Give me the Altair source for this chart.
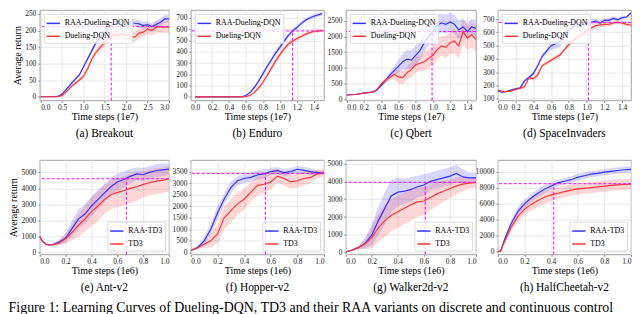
import altair as alt
import pandas as pd

SERIF = "Liberation Serif"
BLUE = "#3535ff"
RED = "#ff3535"
MAG = "#ff00ff"

# ---------------- (a) Breakout ----------------
br_x = [0, 0.2, 0.4, 0.5, 0.6, 0.75, 0.9, 1.0, 1.1, 1.2, 1.3, 1.4, 1.5, 1.6, 1.7, 1.8, 1.9, 2.0, 2.1, 2.2, 2.3, 2.4, 2.5, 2.6, 2.7, 2.8, 2.9, 3.0]
br_raa = [0, 0, 1, 8, 22, 45, 65, 90, 115, 140, 165, 180, 192, 210, 218, 222, 215, 212, 225, 222, 220, 215, 218, 212, 218, 225, 235, 235]
br_raa_sd = [0, 0, 1, 3, 4, 5, 5, 6, 7, 8, 8, 10, 15, 12, 10, 10, 10, 10, 12, 12, 12, 12, 10, 10, 12, 12, 12, 12]
br_base = [0, 0, 0, 4, 15, 35, 50, 62, 85, 115, 135, 150, 165, 180, 188, 185, 190, 185, 183, 180, 192, 195, 205, 200, 210, 212, 210, 210]
br_base_sd = [0, 0, 1, 3, 4, 5, 5, 6, 7, 8, 9, 10, 12, 15, 15, 15, 15, 15, 15, 15, 15, 15, 15, 15, 18, 18, 18, 18]

# ---------------- (b) Enduro ----------------
en_x = [0, 0.2, 0.4, 0.5, 0.55, 0.6, 0.65, 0.7, 0.75, 0.8, 0.85, 0.9, 0.95, 1.0, 1.05, 1.1, 1.15, 1.2, 1.25, 1.3, 1.35, 1.4, 1.45, 1.5]
en_raa = [0, 0, 0, 0, 2, 12, 40, 85, 140, 205, 270, 330, 390, 440, 495, 545, 585, 615, 650, 680, 700, 715, 728, 738]
en_raa_sd = [0, 0, 0, 0, 2, 5, 10, 15, 20, 22, 25, 25, 25, 25, 25, 22, 20, 20, 20, 20, 18, 18, 18, 18]
en_base = [0, 0, 0, 0, 0, 3, 15, 40, 80, 130, 190, 255, 320, 375, 425, 470, 495, 515, 535, 555, 570, 580, 585, 588]
en_base_sd = [0, 0, 0, 0, 0, 3, 8, 12, 18, 20, 22, 25, 25, 25, 25, 22, 20, 18, 18, 18, 15, 15, 15, 15]

# ---------------- (c) Qbert ----------------
qb_x = [0, 0.1, 0.2, 0.3, 0.35, 0.4, 0.45, 0.5, 0.55, 0.6, 0.65, 0.7, 0.75, 0.8, 0.85, 0.9, 0.95, 1.0, 1.05, 1.1, 1.15, 1.2, 1.25, 1.3, 1.35, 1.4, 1.45, 1.5]
qb_raa = [150, 165, 210, 240, 300, 450, 600, 780, 920, 1050, 1200, 1280, 1250, 1400, 1550, 1800, 2000, 2150, 2350, 2420, 2380, 2450, 2380, 2200, 2300, 2150, 2300, 2250]
qb_raa_sd = [10, 10, 15, 20, 30, 50, 80, 100, 150, 200, 250, 300, 300, 300, 300, 300, 300, 300, 300, 300, 300, 300, 300, 300, 250, 250, 250, 250]
qb_base = [150, 165, 210, 240, 320, 500, 620, 700, 800, 720, 700, 850, 950, 1100, 1150, 1200, 1300, 1400, 1580, 1700, 1650, 1800, 1850, 1700, 2150, 1950, 2050, 1900]
qb_base_sd = [10, 10, 15, 20, 30, 50, 80, 100, 150, 200, 200, 200, 250, 250, 250, 300, 300, 300, 300, 300, 350, 350, 400, 400, 400, 400, 400, 400]

# ---------------- (d) SpaceInvaders ----------------
si_x = [0, 0.05, 0.1, 0.15, 0.2, 0.25, 0.3, 0.35, 0.4, 0.45, 0.5, 0.55, 0.6, 0.65, 0.7, 0.75, 0.8, 0.85, 0.9, 0.95, 1.0, 1.05, 1.1, 1.15, 1.2, 1.25, 1.3, 1.35, 1.4, 1.45, 1.5]
si_raa = [160, 150, 155, 165, 175, 180, 235, 260, 290, 350, 420, 460, 500, 515, 530, 580, 620, 640, 650, 660, 665, 675, 685, 670, 690, 690, 705, 695, 710, 715, 745]
si_raa_sd = [8, 8, 8, 8, 8, 10, 15, 15, 15, 15, 15, 20, 30, 40, 40, 30, 25, 20, 20, 15, 15, 15, 15, 15, 15, 15, 15, 15, 10, 10, 10]
si_base = [165, 155, 155, 160, 170, 180, 190, 260, 250, 280, 350, 370, 390, 410, 430, 470, 510, 540, 560, 590, 610, 630, 650, 655, 660, 660, 670, 675, 670, 660, 655]
si_base_sd = [8, 8, 8, 8, 8, 10, 12, 15, 15, 15, 15, 15, 15, 15, 15, 15, 20, 20, 20, 20, 20, 20, 20, 20, 20, 15, 15, 15, 15, 15, 15]

# ---------------- (e) Ant-v2 ----------------
an_x = [0, 0.02, 0.05, 0.08, 0.1, 0.15, 0.2, 0.25, 0.3, 0.35, 0.4, 0.45, 0.5, 0.55, 0.6, 0.65, 0.7, 0.75, 0.8, 0.85, 0.9, 0.95, 1.0]
an_raa = [1000, 700, 500, 470, 500, 650, 900, 1500, 2100, 2400, 2900, 3300, 3700, 4100, 4400, 4550, 4750, 4900, 4850, 5000, 5100, 5150, 5200]
an_raa_sd = [50, 50, 50, 50, 60, 150, 300, 500, 600, 600, 600, 600, 600, 550, 500, 500, 450, 400, 400, 400, 400, 400, 350]
an_base = [1000, 700, 500, 470, 480, 600, 850, 1250, 1700, 2100, 2550, 2900, 3300, 3600, 3750, 3850, 4000, 4100, 4250, 4350, 4450, 4500, 4600]
an_base_sd = [50, 50, 50, 50, 60, 150, 300, 500, 700, 800, 900, 900, 900, 900, 900, 900, 900, 900, 800, 800, 800, 800, 800]

# ---------------- (f) Hopper-v2 ----------------
ho_x = [0, 0.05, 0.1, 0.15, 0.2, 0.25, 0.3, 0.35, 0.4, 0.45, 0.5, 0.55, 0.6, 0.65, 0.7, 0.75, 0.8, 0.85, 0.9, 0.95, 1.0]
ho_raa = [80, 200, 500, 1000, 1700, 2300, 2800, 3100, 3200, 3250, 3350, 3400, 3500, 3550, 3450, 3500, 3600, 3550, 3500, 3450, 3450]
ho_raa_sd = [30, 80, 150, 250, 300, 250, 250, 200, 200, 200, 200, 200, 150, 150, 150, 150, 150, 150, 150, 100, 100]
ho_base = [80, 200, 350, 500, 800, 1500, 1800, 2100, 2300, 2600, 2900, 2950, 3050, 3300, 3200, 3050, 3100, 3200, 3250, 3400, 3450]
ho_base_sd = [30, 80, 150, 300, 400, 500, 500, 500, 450, 400, 400, 400, 350, 300, 300, 300, 300, 300, 250, 200, 150]

# ---------------- (g) Walker2d-v2 ----------------
wa_x = [0, 0.05, 0.1, 0.15, 0.2, 0.25, 0.3, 0.35, 0.4, 0.45, 0.5, 0.55, 0.6, 0.65, 0.7, 0.75, 0.8, 0.85, 0.9, 0.95, 1.0]
wa_raa = [50, 150, 300, 550, 1000, 1800, 2500, 3200, 3400, 3450, 3550, 3700, 3800, 4000, 4100, 4200, 4300, 4450, 4250, 4200, 4200]
wa_raa_sd = [20, 50, 100, 300, 600, 800, 900, 900, 800, 700, 700, 600, 600, 500, 500, 500, 500, 500, 400, 300, 300]
wa_base = [50, 150, 300, 500, 850, 1400, 1800, 2100, 2300, 2500, 2700, 2850, 2900, 3100, 3300, 3450, 3600, 3750, 3850, 3900, 3950]
wa_base_sd = [20, 50, 100, 300, 600, 800, 900, 900, 900, 900, 900, 800, 800, 700, 700, 600, 500, 500, 400, 300, 300]

# ---------------- (h) HalfCheetah-v2 ----------------
hc_x = [0, 0.02, 0.05, 0.1, 0.15, 0.2, 0.25, 0.3, 0.35, 0.4, 0.45, 0.5, 0.55, 0.6, 0.65, 0.7, 0.75, 0.8, 0.85, 0.9, 0.95, 1.0]
hc_raa = [0, 0, 1500, 3500, 5000, 6000, 6700, 7300, 7800, 8200, 8600, 8800, 9000, 9300, 9500, 9700, 9800, 9950, 10050, 10150, 10250, 10300]
hc_raa_sd = [0, 0, 200, 400, 500, 500, 500, 500, 500, 450, 400, 400, 400, 400, 400, 400, 400, 400, 400, 400, 400, 400]
hc_base = [0, 0, 1200, 3000, 4400, 5300, 5900, 6400, 6800, 7100, 7300, 7500, 7700, 7850, 7920, 8000, 8100, 8200, 8280, 8350, 8400, 8450]
hc_base_sd = [0, 0, 200, 500, 700, 800, 800, 800, 800, 800, 700, 700, 700, 700, 700, 700, 700, 700, 700, 700, 700, 700]

DQN_NAMES = ["RAA-Dueling-DQN", "Dueling-DQN"]
TD3_NAMES = ["RAA-TD3", "TD3"]

captions = ["(a) Breakout", "(b) Enduro", "(c) Qbert", "(d) SpaceInvaders",
            "(e) Ant-v2", "(f) Hopper-v2", "(g) Walker2d-v2", "(h) HalfCheetah-v2"]
thresh_y = [212, 585, 2150, 675, 4600, 3420, 3950, 8500]
thresh_x = [1.65, 1.15, 0.99, 1.02, 0.67, 0.56, 0.61, 0.42]

xt7 = [0.0, 0.2, 0.4, 0.6, 0.8, 1.0, 1.2, 1.4]
xt6 = [0.0, 0.2, 0.4, 0.6, 0.8, 1.0]

panels = [
    dict(x=br_x, raa=br_raa, raa_sd=br_raa_sd, base=br_base, base_sd=br_base_sd, names=DQN_NAMES,
         xdom=[-0.02, 3.0], ydom=[-11, 262], xticks=[0.0, 0.5, 1.0, 1.5, 2.0, 2.5, 3.0], yticks=[0, 50, 100, 150, 200, 250],
         xtitle="Time steps (1e7)", lorient="top-left"),
    dict(x=en_x, raa=en_raa, raa_sd=en_raa_sd, base=en_base, base_sd=en_base_sd, names=DQN_NAMES,
         xdom=[-0.05, 1.52], ydom=[-31, 771], xticks=xt7, yticks=[0, 100, 200, 300, 400, 500, 600, 700],
         xtitle="Time steps (1e7)", lorient="top-left"),
    dict(x=qb_x, raa=qb_raa, raa_sd=qb_raa_sd, base=qb_base, base_sd=qb_base_sd, names=DQN_NAMES,
         xdom=[-0.01, 1.5], ydom=[-20, 2830], xticks=xt7, yticks=[0, 500, 1000, 1500, 2000, 2500],
         xtitle="Time steps (1e7)", lorient="top-left"),
    dict(x=si_x, raa=si_raa, raa_sd=si_raa_sd, base=si_base, base_sd=si_base_sd, names=DQN_NAMES,
         xdom=[0, 1.5], ydom=[88, 768], xticks=xt7, yticks=[100, 200, 300, 400, 500, 600, 700],
         xtitle="Time steps (1e7)", lorient="top-left"),
    dict(x=an_x, raa=an_raa, raa_sd=an_raa_sd, base=an_base, base_sd=an_base_sd, names=TD3_NAMES,
         xdom=[0, 1.0], ydom=[-120, 5770], xticks=xt6, yticks=[0, 1000, 2000, 3000, 4000, 5000],
         xtitle="Time steps (1e6)", lorient="bottom-right"),
    dict(x=ho_x, raa=ho_raa, raa_sd=ho_raa_sd, base=ho_base, base_sd=ho_base_sd, names=TD3_NAMES,
         xdom=[0, 1.0], ydom=[-90, 4000], xticks=xt6, yticks=[0, 500, 1000, 1500, 2000, 2500, 3000, 3500],
         xtitle="Time steps (1e6)", lorient="bottom-right"),
    dict(x=wa_x, raa=wa_raa, raa_sd=wa_raa_sd, base=wa_base, base_sd=wa_base_sd, names=TD3_NAMES,
         xdom=[0, 1.0], ydom=[-95, 5200], xticks=xt6, yticks=[0, 1000, 2000, 3000, 4000, 5000],
         xtitle="Time steps (1e6)", lorient="bottom-right"),
    dict(x=hc_x, raa=hc_raa, raa_sd=hc_raa_sd, base=hc_base, base_sd=hc_base_sd, names=TD3_NAMES,
         xdom=[0, 1.0], ydom=[-380, 11470], xticks=xt6, yticks=[0, 2000, 4000, 6000, 8000, 10000],
         xtitle="Time steps (1e6)", lorient="bottom-right"),
]

col_widths = [130, 134, 131, 134]
row_heights = [91, 95]


def make_panel(i, p):
    col = i % 4
    row = i // 4
    recs = []
    for name, m, s in [(p["names"][0], p["raa"], p["raa_sd"]), (p["names"][1], p["base"], p["base_sd"])]:
        for xi, mi, si in zip(p["x"], m, s):
            recs.append({"x": xi, "mean": mi, "lo": mi - si, "hi": mi + si, "series": name})
    df = pd.DataFrame(recs)

    xs = alt.Scale(domain=p["xdom"], nice=False, zero=False)
    ys = alt.Scale(domain=p["ydom"], nice=False, zero=False)
    xax = alt.Axis(values=p["xticks"], format=".1f", title=p["xtitle"])
    if col == 0:
        yax = alt.Axis(values=p["yticks"], format="d", title="Average return")
    else:
        yax = alt.Axis(values=p["yticks"], format="d", title="")
    cscale = alt.Scale(domain=p["names"], range=[BLUE, RED])
    leg = alt.Legend(
        title=None, orient=p["lorient"], symbolType="stroke", symbolSize=180,
        symbolStrokeWidth=1.5, symbolOpacity=1, labelFont=SERIF, labelFontSize=8,
        labelColor="black", fillColor="rgba(255,255,255,0.8)", strokeColor="#dddddd",
        padding=2, rowPadding=1, offset=4, labelLimit=200,
    )
    color = alt.Color("series:N", scale=cscale, legend=leg)

    band = alt.Chart(df).mark_area(opacity=0.2, clip=True).encode(
        x=alt.X("x:Q", scale=xs, axis=xax),
        y=alt.Y("lo:Q", scale=ys, axis=yax),
        y2="hi:Q",
        color=color,
    )
    line = alt.Chart(df).mark_line(strokeWidth=1.2, clip=True).encode(
        x=alt.X("x:Q", scale=xs, axis=xax),
        y=alt.Y("mean:Q", scale=ys, axis=yax),
        color=color,
    )
    hdf = pd.DataFrame({"y": [thresh_y[i]]})
    hline = alt.Chart(hdf).mark_rule(color=MAG, strokeDash=[3, 2], strokeWidth=1).encode(
        y=alt.Y("y:Q", scale=ys, axis=yax)
    )
    vdf = pd.DataFrame({"x": [thresh_x[i]], "y": [p["ydom"][0]], "y2": [thresh_y[i]]})
    vline = alt.Chart(vdf).mark_rule(color=MAG, strokeDash=[3, 2], strokeWidth=1).encode(
        x=alt.X("x:Q", scale=xs, axis=xax),
        y=alt.Y("y:Q", scale=ys, axis=yax),
        y2="y2:Q",
    )
    return alt.layer(band, line, hline, vline).properties(
        width=col_widths[col],
        height=row_heights[row],
        title=alt.TitleParams(
            text=captions[i], orient="bottom", anchor="middle", font=SERIF,
            fontSize=11.5, fontWeight="normal", color="black", offset=6,
        ),
    )


charts = [make_panel(i, p) for i, p in enumerate(panels)]

chart = alt.concat(
    *charts, columns=4, spacing={"row": 60, "column": 22}, bounds="flush",
    title=alt.TitleParams(
        text="Figure 1: Learning Curves of Dueling-DQN, TD3 and their RAA variants on discrete and continuous control",
        orient="bottom", anchor="start", font=SERIF, fontSize=14, fontWeight="normal",
        color="black", offset=8,
    ),
).resolve_scale(
    x="independent", y="independent", color="independent"
).resolve_legend(
    color="independent"
).resolve_axis(
    x="independent", y="independent"
).properties(
    padding={"left": 0, "top": 0, "right": 0, "bottom": 0}
).configure(
    font=SERIF
).configure_view(
    stroke="#888888", strokeWidth=0.8
).configure_axis(
    labelFont=SERIF, labelFontSize=7.5, labelColor="#222222",
    titleFont=SERIF, titleFontSize=10, titleFontWeight="normal", titleColor="black",
    gridColor="#e2e2e2", gridWidth=0.8, domain=False, tickSize=2, tickColor="#888888",
    labelPadding=1, titlePadding=1,
).configure_axisY(
    labelPadding=2, titlePadding=2,
).configure_title(
    font=SERIF
).configure_legend(
    labelFont=SERIF
)

chart.save("out.html", embed_options={"renderer": "svg", "actions": False})
